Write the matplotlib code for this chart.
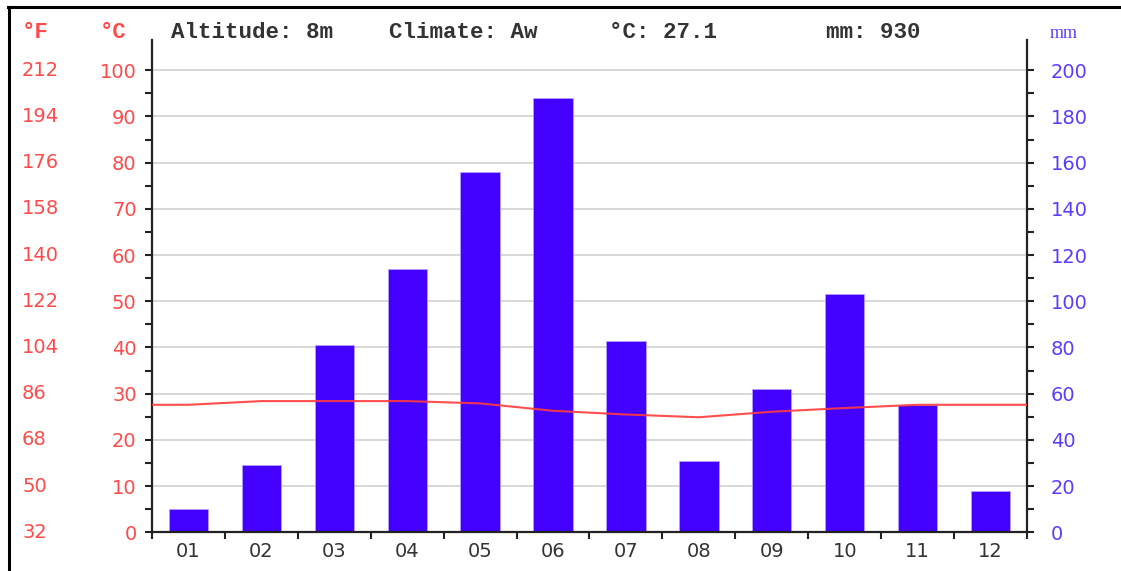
import matplotlib.pyplot as plt
import matplotlib.transforms as mtransforms
from matplotlib.lines import Line2D
import numpy as np

# Climate chart: monthly precipitation (bars) and mean temperature (line)
months = np.arange(1, 13)
month_labels = ["01", "02", "03", "04", "05", "06", "07", "08", "09", "10", "11", "12"]
precip_mm = [10, 29, 81, 114, 156, 188, 83, 31, 62, 103, 55, 18]
temp_c = [27.6, 28.4, 28.4, 28.4, 27.9, 26.3, 25.5, 24.9, 26.1, 26.9, 27.6, 27.6]
celsius_ticks = [0, 10, 20, 30, 40, 50, 60, 70, 80, 90, 100]
fahrenheit_ticks = [32, 50, 68, 86, 104, 122, 140, 158, 176, 194, 212]
mm_ticks = [0, 20, 40, 60, 80, 100, 120, 140, 160, 180, 200]
header = [("Altitude: 8m", 171), ("Climate: Aw", 389), ("°C: 27.1", 609), ("mm: 930", 826)]

red = "#ff4a4a"
blue = "#5a3cff"
bar_color = "#4400ff"
axis_color = "#222222"
text_gray = "#333333"

W, H = 1121, 571
fig = plt.figure(figsize=(W / 100, H / 100), dpi=100)
fig.patch.set_facecolor("white")

left, right, bottom, top = 152, 1027, 532.3, 40
ax2 = fig.add_axes([left / W, 1 - bottom / H, (right - left) / W, (bottom - top) / H])
ax = fig.add_axes(ax2.get_position(), sharex=ax2)
ax.patch.set_visible(False)

c_top = (bottom - top) / 4.62
ax.set_ylim(0, c_top)
ax2.set_ylim(0, 2 * c_top)
ax.set_xlim(0.5, 12.5)

# precipitation bars on the mm axis, with horizontal grid behind
ax2.bar(months, precip_mm, width=0.54, color=bar_color,
        edgecolor="#b9a6ff", linewidth=0.5, zorder=3)
for v in mm_ticks[1:]:
    ax2.axhline(v, color="#d4d4d4", linewidth=1.3, zorder=1)

# temperature line, held flat out to the plot edges
tx = np.concatenate([[0.5], months, [12.5]])
ty = np.concatenate([[temp_c[0]], temp_c, [temp_c[-1]]])
ax.plot(tx, ty, color="#ff3b3b", linewidth=1.5, alpha=0.9, zorder=5)

# spines
for s in ["top", "right"]:
    ax.spines[s].set_visible(False)
for s in ["top", "left", "bottom"]:
    ax2.spines[s].set_visible(False)
for sp in [ax.spines["left"], ax.spines["bottom"], ax2.spines["right"]]:
    sp.set_color(axis_color)
    sp.set_linewidth(1.6)

# left (°C) ticks
ax.set_yticks(celsius_ticks)
ax.set_yticklabels([str(c) for c in celsius_ticks])
ax.set_yticks(np.arange(5, 100, 10), minor=True)
ax.tick_params(axis="y", which="both", direction="out", length=5, width=1.5,
               color=axis_color, labelcolor=red, labelsize=14, pad=6)

# right (mm) ticks
ax2.yaxis.tick_right()
ax2.set_yticks(mm_ticks)
ax2.set_yticklabels([str(m) for m in mm_ticks])
ax2.set_yticks(np.arange(10, 200, 20), minor=True)
ax2.tick_params(axis="y", which="both", direction="out", length=5, width=1.5,
                color=axis_color, labelcolor=blue, labelsize=14, pad=12)
ax2.tick_params(axis="x", which="both", bottom=False, labelbottom=False)

# month ticks at boundaries, labels centred under each bar
ax.set_xticks(np.arange(0.5, 13, 1))
ax.set_xticklabels([""] * 13)
ax.set_xticks(months, minor=True)
ax.set_xticklabels(month_labels, minor=True)
ax.tick_params(axis="x", which="major", direction="out", length=5, width=1.5,
               color=axis_color)
ax.tick_params(axis="x", which="minor", length=0, labelsize=14,
               labelcolor=text_gray, pad=7)

# °F column
trans = mtransforms.blended_transform_factory(fig.transFigure, ax.transData)
for c, f in zip(celsius_ticks, fahrenheit_ticks):
    fig.text(22 / W, c, str(f), transform=trans, ha="left", va="center",
             fontsize=14, color=red)

# header row
ytxt = 1 - 33 / H
fig.text(22 / W, ytxt, "°F", ha="left", va="center", fontsize=16,
         color=red, family="Liberation Mono", weight="bold")
fig.text(100 / W, ytxt, "°C", ha="left", va="center", fontsize=16,
         color=red, family="Liberation Mono", weight="bold")
for txt, x in header:
    fig.text(x / W, ytxt, txt, ha="left", va="center", fontsize=16.2,
             color=text_gray, family="Liberation Mono", weight="bold")
fig.text(1050 / W, ytxt, "mm", ha="left", va="center", fontsize=13,
         color=blue, family="Liberation Serif")

# frame lines along top and left edge
fig.add_artist(Line2D([8 / W, 1], [1 - 6.5 / H] * 2, color="black", linewidth=2.2))
fig.add_artist(Line2D([8.5 / W] * 2, [0, 1 - 6.5 / H], color="black", linewidth=2.2))

fig.savefig("out.png", dpi=100, facecolor="white")
